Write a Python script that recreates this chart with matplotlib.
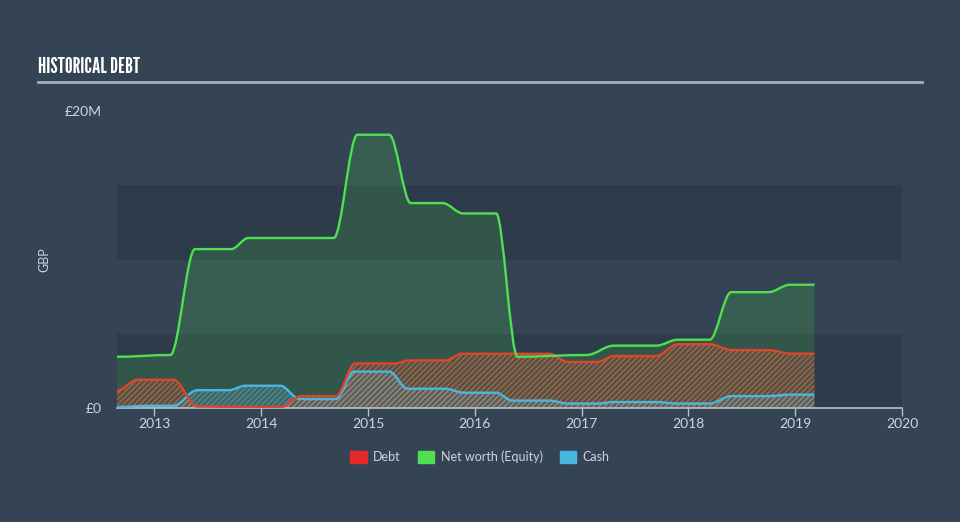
import numpy as np
import matplotlib
matplotlib.use("Agg")
import matplotlib.pyplot as plt
from matplotlib.path import Path
from matplotlib.patches import PathPatch, Patch

# dados (anos decimais, milhoes de GBP)
equity_x = [2012.65, 2013.15, 2013.38, 2013.72, 2013.88, 2014.68, 2014.9, 2015.2, 2015.4, 2015.7,
            2015.89, 2016.2, 2016.4, 2017.05, 2017.3, 2017.7, 2017.9, 2018.2, 2018.4, 2018.75,
            2018.95, 2019.18]
equity = [3.45, 3.57, 10.7, 10.7, 11.45, 11.45, 18.4, 18.4, 13.8, 13.8,
          13.1, 13.1, 3.45, 3.57, 4.2, 4.2, 4.6, 4.6, 7.8, 7.8,
          8.3, 8.3]

debt_x = [2012.65, 2012.84, 2013.18, 2013.4, 2014.18, 2014.38, 2014.7, 2014.88, 2015.25, 2015.38,
          2015.72, 2015.88, 2016.7, 2016.87, 2017.15, 2017.3, 2017.7, 2017.9, 2018.2, 2018.4,
          2018.75, 2018.95, 2019.18]
debt = [1.15, 1.9, 1.9, 0.1, 0.05, 0.8, 0.8, 3.0, 3.0, 3.2,
        3.2, 3.65, 3.65, 3.1, 3.1, 3.5, 3.5, 4.3, 4.3, 3.9,
        3.9, 3.66, 3.66]

cash_x = [2012.65, 2012.95, 2013.18, 2013.4, 2013.7, 2013.85, 2014.18, 2014.36, 2014.7, 2014.87,
          2015.2, 2015.37, 2015.72, 2015.9, 2016.2, 2016.35, 2016.7, 2016.87, 2017.15, 2017.3,
          2017.7, 2017.9, 2018.2, 2018.4, 2018.75, 2018.95, 2019.18]
cash = [0.07, 0.15, 0.15, 1.2, 1.2, 1.5, 1.5, 0.6, 0.6, 2.45,
        2.45, 1.3, 1.3, 1.03, 1.03, 0.5, 0.5, 0.3, 0.3, 0.4,
        0.4, 0.3, 0.3, 0.8, 0.8, 0.9, 0.9]

anos = [2013, 2014, 2015, 2016, 2017, 2018, 2019, 2020]

bg = "#344454"
band = "#2e3b4b"
txt = "#d0d5da"
verde = "#4ee04e"
vermelho = "#e0452a"
azul = "#48b8e0"


def curva(x, y, fechar=False):
    # curva suave (bezier com tangentes horizontais) entre os pontos
    verts = [(x[0], y[0])]
    codes = [Path.MOVETO]
    for i in range(1, len(x)):
        dx = x[i] - x[i - 1]
        verts += [(x[i - 1] + dx / 3, y[i - 1]), (x[i] - dx / 3, y[i]), (x[i], y[i])]
        codes += [Path.CURVE4] * 3
    if fechar:
        verts += [(x[-1], 0), (x[0], 0), (x[0], 0)]
        codes += [Path.LINETO, Path.LINETO, Path.CLOSEPOLY]
    return Path(verts, codes)


fig = plt.figure(figsize=(9.6, 5.22), dpi=100, facecolor=bg)
ax = fig.add_axes([117 / 960, 1 - 408 / 522, 785 / 960, 297 / 522])
ax.set_facecolor(bg)
ax.set_xlim(2012.65, 2020)
ax.set_ylim(0, 20)

# faixas de fundo
ax.axhspan(0, 5, color=band, zorder=0, lw=0)
ax.axhspan(10, 15, color=band, zorder=0, lw=0)

# areas
ax.add_patch(PathPatch(curva(equity_x, equity, True), facecolor=(0.30, 0.88, 0.30, 0.17), lw=0, zorder=1))
ax.add_patch(PathPatch(curva(cash_x, cash, True), facecolor=(0.28, 0.72, 0.88, 0.2), lw=0, zorder=2))
ax.add_patch(PathPatch(curva(debt_x, debt, True), facecolor=(0.88, 0.27, 0.16, 0.18),
                       edgecolor=(0.88, 0.45, 0.30, 0.6), hatch="//////", lw=0, zorder=2))
ax.add_patch(PathPatch(curva(cash_x, cash, True), facecolor="none",
                       edgecolor=(0.55, 0.65, 0.70, 0.45), hatch="//////", lw=0, zorder=2))

# linhas
ax.add_patch(PathPatch(curva(cash_x, cash), facecolor="none", edgecolor=azul, lw=1.7, zorder=3))
ax.add_patch(PathPatch(curva(debt_x, debt), facecolor="none", edgecolor=vermelho, lw=1.7, zorder=4))
ax.add_patch(PathPatch(curva(equity_x, equity), facecolor="none", edgecolor=verde, lw=1.7, zorder=5))

for s in ["top", "right", "left"]:
    ax.spines[s].set_visible(False)
ax.spines["bottom"].set_color("#b8c0c8")
ax.spines["bottom"].set_linewidth(1.2)

ax.set_xticks(anos)
ax.set_xticklabels([str(a) for a in anos], fontsize=10, color=txt, fontfamily="Lato")
ax.tick_params(axis="x", colors="#b8c0c8", length=6, width=1, labelcolor=txt, pad=1)
ax.set_yticks([0, 20])
ax.set_yticklabels(["£0", "£20M"], fontsize=10, color=txt, fontfamily="Lato")
ax.tick_params(axis="y", length=0, pad=11)
ax.set_ylabel("GBP", color=txt, fontsize=9, fontfamily="Lato")
ax.yaxis.set_label_coords(-0.085, 0.5)

# titulo
fig.text(38 / 960, 1 - 67 / 522, "HISTORICAL DEBT", color="white", fontsize=15.5,
         fontfamily=["League Gothic", "DejaVu Sans"], va="center", ha="left")
fig.add_artist(plt.Line2D([38 / 960, 922 / 960], [1 - 82 / 522, 1 - 82 / 522],
                          color="#a8b0b8", lw=2))

handles = [Patch(color="#e52a2a", label="Debt"),
           Patch(color=verde, label="Net worth (Equity)"),
           Patch(color=azul, label="Cash")]
leg = fig.legend(handles=handles, loc="center", bbox_to_anchor=(0.5, 1 - 457 / 522), ncol=3,
                 frameon=False, handlelength=1.3, handleheight=1.0,
                 columnspacing=1.4, handletextpad=0.5, prop={"family": "Lato", "size": 9})
for t in leg.get_texts():
    t.set_color(txt)

fig.savefig("out.png", dpi=100, facecolor=bg)
